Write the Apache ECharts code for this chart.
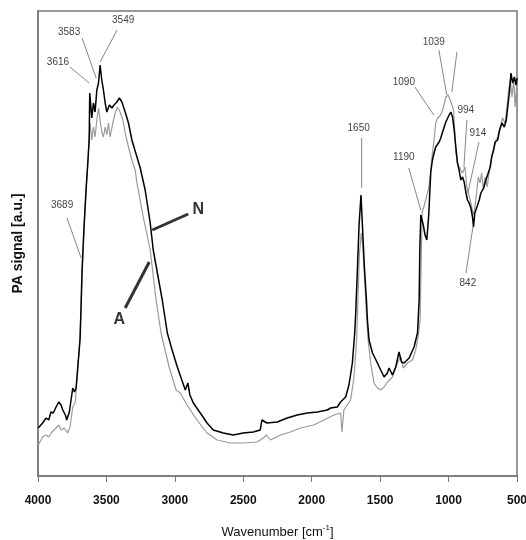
<!DOCTYPE html>
<html>
<head>
<meta charset="utf-8">
<style>
  html, body { margin: 0; padding: 0; background: #fff; }
  #chart { width: 526px; height: 540px; }
</style>
<script src="https://cdn.jsdelivr.net/npm/echarts@6/dist/echarts.min.js"></script>
</head>
<body>
<div id="chart"></div>
<script>
// x ticks (wavenumber, cm-1)
const xTicks = [4000, 3500, 3000, 2500, 2000, 1500, 1000, 500]

// sample N (black)
const nWave = [3998, 3990, 3966, 3941, 3922, 3905, 3888, 3868, 3848, 3832, 3819, 3800, 3790, 3771, 3758, 3746, 3734, 3722, 3717, 3705,
  3692, 3678, 3663, 3649, 3634, 3626, 3622, 3607, 3595, 3583, 3570, 3558, 3546, 3534, 3522, 3509, 3497, 3478, 3460, 3444,
  3424, 3405, 3387, 3363, 3339, 3314, 3277, 3253, 3217, 3180, 3158, 3125, 3092, 3055, 3020, 2982, 2924, 2905, 2890, 2865,
  2814, 2765, 2719, 2646, 2573, 2500, 2427, 2376, 2364, 2327, 2252, 2179, 2106, 2033, 1959, 1886, 1862, 1813, 1789, 1776,
  1752, 1728, 1703, 1686, 1679, 1665, 1654, 1640, 1628, 1614, 1600, 1593, 1581, 1556, 1520, 1496, 1471, 1447, 1435, 1410,
  1386, 1362, 1344, 1325, 1288, 1252, 1227, 1215, 1210, 1203, 1185, 1172, 1159, 1145, 1130, 1118, 1106, 1094, 1069, 1057,
  1044, 1032, 1020, 1008, 996, 984, 971, 959, 947, 935, 923, 911, 898, 886, 874, 862, 850, 837, 825, 818,
  808, 793, 776, 764, 744, 727, 710, 695, 685, 671, 659, 641, 627, 610, 593, 578, 568, 556, 544, 532,
  519, 507, 500]
const nSignal = [9.6, 9.8, 10.6, 11.6, 11.2, 12.8, 12.6, 13.8, 14.8, 14.2, 13.2, 12.2, 11.2, 12.8, 12.6, 17.6, 16.8, 17.6, 19.2, 23.2,
  27.6, 41.2, 50.2, 57.2, 63.6, 67.2, 76.6, 71.6, 74.6, 72.8, 77.2, 78.6, 82.2, 79.2, 77.2, 74.6, 72.8, 74.2, 73.6, 74.2,
  74.8, 75.6, 74.8, 72.8, 70.6, 67.2, 63.8, 61.6, 57.2, 50.6, 45.2, 40.2, 35.2, 28.6, 25.2, 21.8, 17.2, 18.6, 16.2, 14.6,
  12.6, 10.6, 9.2, 8.6, 8.2, 8.6, 8.8, 9.2, 11.2, 10.6, 10.8, 11.6, 12.2, 12.6, 12.8, 13.2, 13.6, 13.8, 14.8, 14.8,
  15.8, 18.2, 22.6, 28.6, 32.2, 42.2, 50.2, 56.2, 49.2, 41.2, 35.2, 31.2, 27.2, 24.6, 22.6, 21.2, 19.8, 20.6, 21.6, 20.2,
  21.8, 24.8, 22.8, 22.6, 23.6, 25.8, 28.6, 35.2, 45.2, 52.2, 50.2, 48.2, 47.2, 52.2, 60.8, 63.2, 64.6, 65.8, 66.8, 67.6,
  68.8, 69.8, 70.8, 71.2, 72.2, 72.8, 71.8, 69.2, 65.8, 62.6, 61.2, 59.2, 59.8, 58.8, 56.8, 55.2, 54.6, 53.6, 51.8, 49.8,
  52.6, 53.8, 55.2, 56.6, 57.6, 59.2, 60.6, 61.8, 63.8, 65.2, 66.8, 67.2, 69.2, 70.6, 69.8, 71.2, 73.8, 76.6, 80.6, 78.6,
  79.8, 78.2, 79.6]

// sample A (grey)
const aWave = [3998, 3990, 3966, 3941, 3922, 3898, 3868, 3848, 3832, 3808, 3783, 3766, 3746, 3727, 3710, 3698, 3685, 3678, 3663, 3649,
  3634, 3629, 3619, 3607, 3595, 3583, 3570, 3558, 3546, 3534, 3522, 3509, 3497, 3485, 3473, 3453, 3436, 3419, 3400, 3380,
  3363, 3339, 3314, 3290, 3277, 3231, 3180, 3137, 3101, 3042, 2991, 2960, 2911, 2838, 2765, 2691, 2594, 2500, 2399, 2353,
  2331, 2302, 2229, 2156, 2083, 1985, 1912, 1838, 1789, 1779, 1765, 1716, 1691, 1672, 1660, 1652, 1638, 1628, 1615, 1600,
  1588, 1569, 1545, 1520, 1496, 1471, 1447, 1410, 1374, 1350, 1331, 1301, 1264, 1240, 1223, 1208, 1200, 1193, 1181, 1167,
  1143, 1130, 1118, 1106, 1094, 1081, 1057, 1037, 1020, 1003, 988, 975, 963, 954, 947, 935, 923, 911, 898, 880,
  867, 855, 843, 831, 819, 808, 793, 783, 770, 758, 745, 733, 718, 706, 695, 678, 661, 641, 622, 605,
  588, 573, 561, 549, 537, 524, 514, 502, 500]
const aSignal = [6.2, 6.6, 7.8, 8.2, 7.8, 8.8, 9.6, 10.2, 9.2, 9.6, 8.6, 9.8, 13.8, 14.8, 21.2, 25.8, 33.2, 40.2, 49.6, 56.8,
  63.2, 66.6, 70.6, 67.2, 69.8, 67.8, 71.2, 73.6, 71.2, 68.8, 67.8, 69.8, 68.2, 70.6, 67.8, 70.6, 72.6, 73.8, 72.8, 71.2,
  68.6, 65.8, 63.2, 61.2, 58.6, 51.8, 45.2, 35.2, 28.6, 21.8, 17.2, 16.6, 14.2, 11.2, 8.6, 7.2, 6.6, 6.6, 6.8, 7.6,
  8.2, 7.2, 8.2, 8.8, 9.6, 10.2, 11.2, 12.2, 12.6, 8.8, 13.2, 15.2, 19.8, 27.2, 37.2, 44.2, 48.6, 46.2, 40.2, 32.2,
  27.2, 22.6, 18.6, 17.6, 17.2, 17.8, 18.8, 19.8, 22.6, 23.8, 21.6, 22.6, 23.2, 25.2, 27.8, 31.2, 43.2, 52.8, 53.8, 55.2,
  57.8, 61.2, 64.6, 67.2, 70.6, 71.6, 72.2, 73.8, 75.8, 76.2, 75.2, 75.6, 73.2, 68.6, 64.6, 62.6, 61.8, 61.2, 60.6, 61.8,
  57.8, 56.6, 55.2, 53.8, 52.2, 53.8, 57.2, 59.8, 58.6, 60.6, 57.2, 59.8, 57.8, 60.2, 62.6, 64.6, 66.8, 67.8, 69.8, 71.6,
  70.6, 73.8, 77.2, 79.2, 75.8, 79.2, 73.8, 78.6, 79.8]

// peak annotations: text, text position, leader line start/end (data units)
const annText = ['3616', '3583', '3549', '3689', '1650', '1190', '1090', '1039', '', '994', '914', '842']
const annAt = [[3854, 82.8], [3773, 88.8], [3378, 91.2], [3824, 54.2], [1657, 69.6], [1327, 63.8], [1327, 78.8], [1108, 86.8], null, [874, 73.2], [786, 68.6], [859, 38.6]]
const annFrom = [[3766, 81.8], [3678, 87.6], [3422, 89.2], [3788, 51.6], [1635, 67.6], [1291, 61.6], [1247, 77.8], [1071, 85.2], [939, 84.8], [866, 71.2], [778, 66.8], [873, 40.6]]
const annTo = [[3627, 78.6], [3575, 79.6], [3546, 82.8], [3685, 43.6], [1635, 57.6], [1203, 53.2], [1108, 72.2], [1013, 76.2], [976, 76.8], [888, 61.8], [859, 56.6], [822, 49.8]]

// curve labels N / A
const curveText = ['N', 'A']
const curveAt = [[2828, 53.2], [3407, 31.2]]
const curveFrom = [[2902, 52.4], [3363, 33.6]]
const curveTo = [[3165, 49.2], [3187, 42.8]]

const narrow = '"Liberation Sans Narrow", "Arial Narrow", "Liberation Sans", Arial, sans-serif'

const chart = echarts.init(document.getElementById('chart'))
const option = {
  animation: false,
  backgroundColor: '#fff',
  grid: {
    left: 38,
    right: 9,
    top: 11,
    bottom: 64,
    outerBoundsMode: 'none',
    show: true,
    borderColor: '#777',
    borderWidth: 1.5
  },
  xAxis: {
    type: 'value',
    inverse: true,
    min: 500,
    max: 4000,
    interval: 500,
    name: 'Wavenumber [cm{sup|-1}]',
    nameLocation: 'middle',
    nameGap: 48,
    nameTextStyle: {
      color: '#111',
      fontSize: 13,
      fontFamily: narrow,
      rich: {
        sup: { fontSize: 8, verticalAlign: 'top', padding: [0, 0, 8, 0], fontFamily: narrow, color: '#111' }
      }
    },
    axisLine: { lineStyle: { color: '#777', width: 1.5 } },
    axisTick: { show: true, inside: false, length: 6, lineStyle: { color: '#777' } },
    axisLabel: {
      margin: 19,
      color: '#111',
      fontWeight: 'bold',
      fontSize: 12,
      fontFamily: narrow,
      formatter: (v) => (xTicks.includes(v) ? String(v) : '')
    },
    splitLine: { show: false }
  },
  yAxis: {
    type: 'value',
    min: 0,
    max: 93,
    name: 'PA signal [a.u.]',
    nameLocation: 'middle',
    nameGap: 13,
    nameTextStyle: { color: '#111', fontSize: 14, fontWeight: 'bold', fontFamily: 'Liberation Sans, Arial, sans-serif' },
    axisLine: { show: true, lineStyle: { color: '#777', width: 1.5 } },
    axisTick: { show: false },
    axisLabel: { show: false },
    splitLine: { show: false }
  },
  series: [
    {
      name: 'A',
      type: 'line',
      showSymbol: false,
      data: aWave.map((w, i) => [w, aSignal[i]]),
      lineStyle: { color: '#9a9a9a', width: 1.2 },
      z: 2
    },
    {
      name: 'N',
      type: 'line',
      showSymbol: false,
      data: nWave.map((w, i) => [w, nSignal[i]]),
      lineStyle: { color: '#000', width: 1.5 },
      z: 3
    }
  ]
}
chart.setOption(option)

// annotations, placed through the axes
const px = (p) => chart.convertToPixel({ xAxisIndex: 0, yAxisIndex: 0 }, p)
const graphics = []
annText.forEach((t, i) => {
  const a = px(annFrom[i])
  const b = px(annTo[i])
  graphics.push({
    type: 'line',
    shape: { x1: a[0], y1: a[1], x2: b[0], y2: b[1] },
    style: { stroke: '#666', lineWidth: 0.8 },
    z: 10
  })
  if (t) {
    const c = px(annAt[i])
    graphics.push({
      type: 'text',
      x: c[0],
      y: c[1],
      style: { text: t, fill: '#444', font: '10px ' + narrow, textAlign: 'center', textVerticalAlign: 'middle' },
      z: 10
    })
  }
})
curveText.forEach((t, i) => {
  const a = px(curveFrom[i])
  const b = px(curveTo[i])
  const c = px(curveAt[i])
  graphics.push({
    type: 'line',
    shape: { x1: a[0], y1: a[1], x2: b[0], y2: b[1] },
    style: { stroke: '#333', lineWidth: 3 },
    z: 10
  })
  graphics.push({
    type: 'text',
    x: c[0],
    y: c[1],
    style: { text: t, fill: '#333', font: 'bold 16px ' + narrow, textAlign: 'center', textVerticalAlign: 'middle' },
    z: 10
  })
})
chart.setOption({ graphic: graphics })
</script>
</body>
</html>
